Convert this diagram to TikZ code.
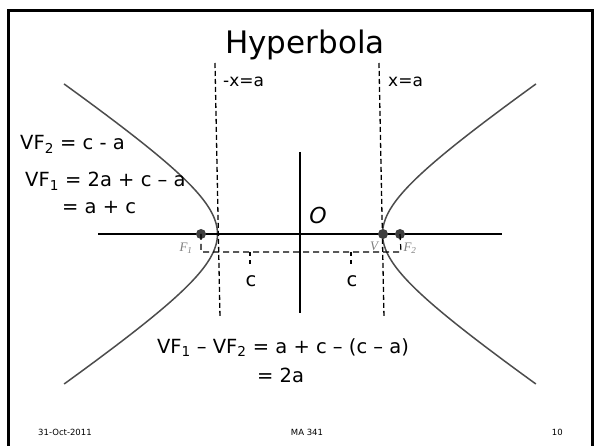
\documentclass[tikz,border=0pt]{standalone}
\usepackage{fontspec}
\setmainfont{DejaVu Sans}
\newfontfamily\lblfont{Liberation Serif}
\tikzset{
  body/.style={font=\fontsize{19.5}{23}\selectfont, inner sep=0pt},
  small/.style={font=\fontsize{17}{20}\selectfont, inner sep=0pt},
  foot/.style={font=\fontsize{8.5}{10}\selectfont, inner sep=0pt},
  ptlbl/.style={font=\lblfont\itshape\fontsize{13}{15}\selectfont, text=gray, inner sep=0pt},
  dot/.style={circle, fill=black!75, minimum size=10pt, inner sep=0pt},
  guide/.style={dashed, dash pattern=on 5pt off 3pt, line width=1.3pt},
  axis/.style={line width=1.8pt},
  branch/.style={line width=1.5pt, black!70}
}
\begin{document}
\begin{tikzpicture}[x=1pt,y=-1pt]
\useasboundingbox (0,0) rectangle (594,446);
\fill[white] (0,0) rectangle (594,446);
% frame
\draw[line width=3pt] (8.5,446) -- (8.5,10.5) -- (592.5,10.5) -- (592.5,446);
% title
\node[anchor=base, inner sep=0pt, font=\fontsize{31}{36}\selectfont] (title) at (305,54) {Hyperbola};
% coordinates
\coordinate (axL) at (98,234);
\coordinate (axR) at (502,234);
\coordinate (ayT) at (300,152);
\coordinate (ayB) at (300,313);
\coordinate (dLt) at (215,63);
\coordinate (dLb) at (220,318);
\coordinate (dRt) at (379,63);
\coordinate (dRb) at (384,318);
% hyperbola branches
\draw[branch] plot[domain=-1.712:1.712, samples=80, smooth] ({300-82.5*cosh(\x)},{234+56*sinh(\x)});
\draw[branch] plot[domain=-1.712:1.712, samples=80, smooth] ({300+82.5*cosh(\x)},{234+56*sinh(\x)});
% directrix guides
\draw[guide] (dLt) -- (dLb);
\draw[guide] (dRt) -- (dRb);
% axes
\draw[axis] (axL) -- (axR);
\draw[axis] (ayT) -- (ayB);
% points
\node[dot] (F1) at (201,234) {};
\node[dot] (V) at (383,234) {};
\node[dot] (F2) at (400,234) {};
% dashed measure lines
\coordinate (m1) at (201,252);
\coordinate (m2) at (401,252);
\coordinate (t1) at (250,252);
\coordinate (t1b) at (250,266);
\coordinate (t2) at (351,252);
\coordinate (t2b) at (351,266);
\draw[dashed, dash pattern=on 6pt off 4pt, line width=1.2pt] (F1.center) -- (m1) -- (m2) -- (F2.center);
\draw[dashed, dash pattern=on 4pt off 4pt, line width=1.2pt] (t1) -- (t1b);
\draw[dashed, dash pattern=on 4pt off 4pt, line width=1.2pt] (t2) -- (t2b);
% point labels
\node[ptlbl, anchor=base] (lF1) at (186,252) {F\textsubscript{1}};
\node[ptlbl, anchor=base] (lV) at (374,251) {V};
\node[ptlbl, anchor=base] (lF2) at (410,252) {F\textsubscript{2}};
\node[anchor=base, inner sep=0pt, font=\itshape\fontsize{22}{26}\selectfont] (O) at (318,224) {O};
% c labels
\node[body, anchor=base] (c1) at (251,287) {c};
\node[body, anchor=base] (c2) at (352,287) {c};
% guide labels
\node[small, anchor=base west] (gl) at (223,87) {-x=a};
\node[small, anchor=base west] (gr) at (388,87) {x=a};
% left equations
\node[body, anchor=base west] (e1) at (20,150) {VF\textsubscript{2} = c - a};
\node[body, anchor=base west] (e2) at (25,187) {VF\textsubscript{1} = 2a + c – a};
\node[body, anchor=base west] (e3) at (62,214) {= a + c};
% bottom equations
\node[body, anchor=base] (b1) at (283,353) {VF\textsubscript{1} – VF\textsubscript{2} = a + c – (c – a)};
\node[body, anchor=base west] (b2) at (257,382) {= 2a};
% footer
\node[foot, anchor=base west] (date) at (38,435) {31-Oct-2011};
\node[foot, anchor=base] (course) at (307,435) {MA 341};
\node[foot, anchor=base east] (page) at (563,435) {10};
\end{tikzpicture}
\end{document}
